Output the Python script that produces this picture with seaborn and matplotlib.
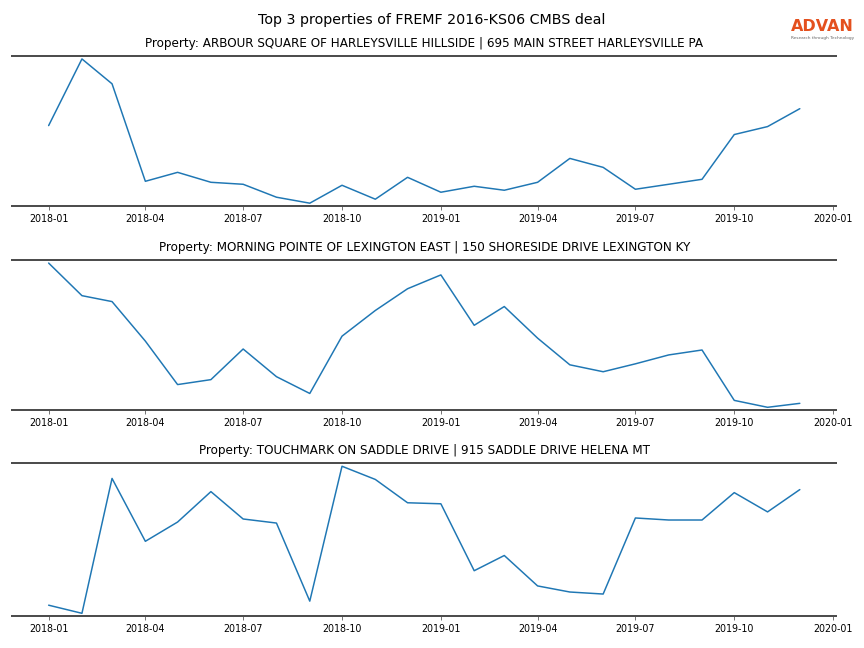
import matplotlib
matplotlib.use("Agg")
import matplotlib.pyplot as plt
import numpy as np
import pandas as pd
import seaborn as sns

months = pd.date_range("2018-01-01", periods=24, freq="MS")

titles = [
    "Property: ARBOUR SQUARE OF HARLEYSVILLE HILLSIDE | 695 MAIN STREET HARLEYSVILLE PA",
    "Property: MORNING POINTE OF LEXINGTON EAST | 150 SHORESIDE DRIVE LEXINGTON KY",
    "Property: TOUCHMARK ON SADDLE DRIVE | 915 SADDLE DRIVE HELENA MT",
]

# monthly visits (arbitrary units)
visits_arbour = [84, 151, 126, 28, 37, 27, 25, 12, 6, 24, 10, 32,
                 17, 23, 19, 27, 51, 42, 20, 25, 30, 75, 83, 101]
visits_morning = [147, 114, 108, 68, 24, 29, 60, 32, 15, 73, 99, 121,
                  135, 84, 103, 71, 44, 37, 45, 54, 59, 8, 1, 5]
visits_touchmark = [16, 8, 141, 79, 98, 128, 101, 97, 20, 153, 140, 117,
                    116, 50, 65, 35, 29, 27, 102, 100, 100, 127, 108, 130]

series = [visits_arbour, visits_morning, visits_touchmark]

sns.set_style("white")
plt.rcParams["text.color"] = "black"
plt.rcParams["xtick.color"] = "#555555"
plt.rcParams["xtick.labelcolor"] = "black"

fig, axes = plt.subplots(3, 1, figsize=(12, 9), dpi=72)
# panel boxes (left, bottom, width, height) in figure fraction
boxes = [(0.014, 0.682, 0.954, 0.2315),
         (0.014, 0.367, 0.954, 0.2315),
         (0.014, 0.049, 0.954, 0.236)]

for ax, vals, title, box in zip(axes, series, titles, boxes):
    ax.set_position(box)
    df = pd.DataFrame({"month": months, "visits": vals})
    sns.lineplot(data=df, x="month", y="visits", ax=ax, color="#1f77b4", linewidth=1.5)
    ax.set_title(title, fontsize=12, pad=9)
    ax.set_xlabel("")
    ax.set_ylabel("")
    ax.margins(y=0.02)
    ax.set_yticks([])
    for side in ["left", "right"]:
        ax.spines[side].set_visible(False)
    for side in ["top", "bottom"]:
        ax.spines[side].set_visible(True)
        ax.spines[side].set_color("#4d4d4d")
        ax.spines[side].set_linewidth(2)
    ax.tick_params(axis="x", labelsize=9.5, length=4, bottom=True)
    ax.set_xlim(pd.Timestamp("2017-11-28"), pd.Timestamp("2020-01-04"))

fig.suptitle("Top 3 properties of FREMF 2016-KS06 CMBS deal", fontsize=14.3, y=0.98)

# logo
fig.text(0.9155, 0.959, "ADVAN", color="#E4501E", fontsize=16, fontweight="bold",
         ha="left", va="center")
fig.text(0.9155, 0.941, "Research through Technology", color="#666666", fontsize=4.2,
         ha="left", va="center")

plt.savefig("out.png", dpi=72)
